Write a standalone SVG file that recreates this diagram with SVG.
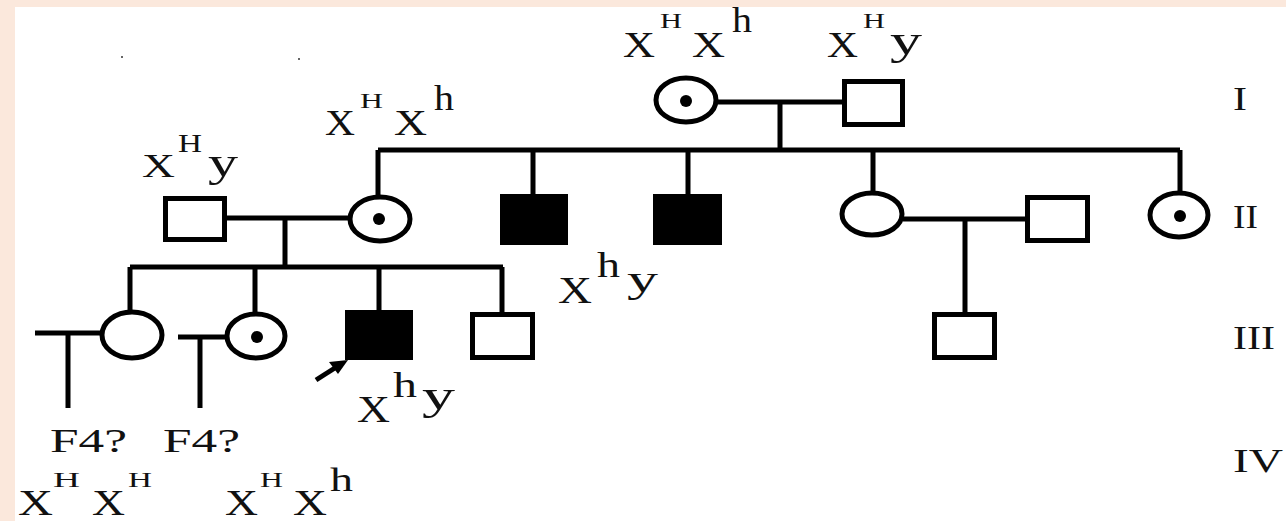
<svg xmlns="http://www.w3.org/2000/svg" width="1286" height="521" viewBox="0 0 1286 521">
  <style>
    .ln { fill: none; stroke: #000; stroke-width: 5; stroke-linecap: butt; }
    .sym { fill: #fff; stroke: #000; stroke-width: 5; }
    .aff { fill: #000; stroke: #000; stroke-width: 5; }
    .dot { fill: #000; }
    .t { font-family: "Liberation Serif", "Times New Roman", serif; fill: #111; }
  </style>

  <!-- page -->
  <rect x="0" y="0" width="1286" height="521" fill="#fbe8dc"/>
  <rect x="15" y="7" width="1271" height="514" fill="#fff"/>
  <circle cx="122" cy="57" r="1" fill="#333"/>
  <circle cx="299" cy="59" r="1" fill="#333"/>

  <!-- connectors -->
  <g id="connectors">
    <path class="ln" d="M718 102 H844 M780 102 V150"/>
    <path class="ln" d="M378 150 H1180 M378 150 V196 M533 150 V196 M688 150 V196 M873 150 V192 M1180 150 V192"/>
    <path class="ln" d="M224 218 H350 M285 218 V267"/>
    <path class="ln" d="M130 267 H503 M130 267 V312 M255 267 V313 M379 267 V312 M502 267 V314"/>
    <path class="ln" d="M903 219 H1027 M965 219 V314"/>
    <path class="ln" d="M35 333 H100 M68 333 V408"/>
    <path class="ln" d="M178 337 H227 M200 337 V408"/>
    <g id="proband-arrow">
      <path class="ln" d="M316 380 L338 366" stroke-width="4"/>
      <polygon points="348,360 329,362 338,374" fill="#000"/>
    </g>
  </g>

  <!-- generation I -->
  <g id="I-1">
    <ellipse class="sym" cx="686" cy="100" rx="30" ry="22"/>
    <circle class="dot" cx="686" cy="101" r="6"/>
  </g>
  <g id="I-2"><rect class="sym" x="844.5" y="81.5" width="58" height="43"/></g>

  <!-- generation II -->
  <g id="II-1"><rect class="sym" x="165.5" y="198.5" width="59" height="41"/></g>
  <g id="II-2">
    <ellipse class="sym" cx="380" cy="219" rx="30" ry="22"/>
    <circle class="dot" cx="379" cy="219" r="6"/>
  </g>
  <g id="II-3"><rect class="aff" x="502.5" y="196.5" width="63" height="46"/></g>
  <g id="II-4"><rect class="aff" x="655.5" y="196.5" width="64" height="46"/></g>
  <g id="II-5"><ellipse class="sym" cx="872" cy="214" rx="30" ry="21"/></g>
  <g id="II-6"><rect class="sym" x="1027.5" y="197.5" width="60" height="43"/></g>
  <g id="II-7">
    <ellipse class="sym" cx="1179" cy="215" rx="29" ry="22"/>
    <circle class="dot" cx="1180" cy="216" r="6"/>
  </g>

  <!-- generation III -->
  <g id="III-1"><ellipse class="sym" cx="132" cy="335" rx="30" ry="23"/></g>
  <g id="III-2">
    <ellipse class="sym" cx="256" cy="336" rx="29" ry="22"/>
    <circle class="dot" cx="257" cy="337" r="6"/>
  </g>
  <g id="III-3"><rect class="aff" x="347.5" y="312.5" width="63" height="45"/></g>
  <g id="III-4"><rect class="sym" x="472.5" y="314.5" width="60" height="43"/></g>
  <g id="III-5"><rect class="sym" x="934.5" y="314.5" width="60" height="43"/></g>

  <!-- genotypes -->
  <g id="label-I-1" class="t">
    <text x="623" y="57" font-size="35" textLength="32" lengthAdjust="spacingAndGlyphs">X</text>
    <text x="660" y="28" font-size="22" textLength="22" lengthAdjust="spacingAndGlyphs">H</text>
    <text x="692" y="57" font-size="35" textLength="33" lengthAdjust="spacingAndGlyphs">X</text>
    <text x="732" y="32" font-size="36" textLength="20" lengthAdjust="spacingAndGlyphs">h</text>
  </g>
  <g id="label-I-2" class="t">
    <text x="827" y="57" font-size="35" textLength="31" lengthAdjust="spacingAndGlyphs">X</text>
    <text x="863" y="28" font-size="22" textLength="22" lengthAdjust="spacingAndGlyphs">H</text>
    <text x="890" y="54" font-size="39" textLength="32" lengthAdjust="spacingAndGlyphs">y</text>
  </g>
  <g id="label-II-2" class="t">
    <text x="325" y="135" font-size="35" textLength="30" lengthAdjust="spacingAndGlyphs">X</text>
    <text x="360" y="108" font-size="22" textLength="23" lengthAdjust="spacingAndGlyphs">H</text>
    <text x="394" y="135" font-size="35" textLength="33" lengthAdjust="spacingAndGlyphs">X</text>
    <text x="434" y="110" font-size="36" textLength="20" lengthAdjust="spacingAndGlyphs">h</text>
  </g>
  <g id="label-II-1" class="t">
    <text x="142" y="177" font-size="33" textLength="33" lengthAdjust="spacingAndGlyphs">X</text>
    <text x="178" y="152" font-size="25" textLength="24" lengthAdjust="spacingAndGlyphs">H</text>
    <text x="208" y="176" font-size="40" textLength="30" lengthAdjust="spacingAndGlyphs">y</text>
  </g>
  <g id="label-II-3" class="t">
    <text x="558" y="303" font-size="37" textLength="34" lengthAdjust="spacingAndGlyphs">X</text>
    <text x="597" y="277" font-size="36" textLength="23" lengthAdjust="spacingAndGlyphs">h</text>
    <text x="627" y="292" font-size="37" textLength="31" lengthAdjust="spacingAndGlyphs">y</text>
  </g>
  <g id="label-III-3" class="t">
    <text x="357" y="422" font-size="37" textLength="33" lengthAdjust="spacingAndGlyphs">X</text>
    <text x="393" y="397" font-size="36" textLength="24" lengthAdjust="spacingAndGlyphs">h</text>
    <text x="422" y="409" font-size="39" textLength="33" lengthAdjust="spacingAndGlyphs">y</text>
  </g>

  <!-- offspring queries -->
  <g id="query-1" class="t">
    <text x="50" y="452" font-size="33" textLength="77" lengthAdjust="spacingAndGlyphs">F4?</text>
  </g>
  <g id="query-2" class="t">
    <text x="163" y="452" font-size="33" textLength="77" lengthAdjust="spacingAndGlyphs">F4?</text>
  </g>
  <g id="label-IV-1" class="t">
    <text x="18" y="515" font-size="36" textLength="35" lengthAdjust="spacingAndGlyphs">X</text>
    <text x="53" y="487" font-size="20" textLength="27" lengthAdjust="spacingAndGlyphs">H</text>
    <text x="92" y="515" font-size="36" textLength="33" lengthAdjust="spacingAndGlyphs">X</text>
    <text x="128" y="487" font-size="20" textLength="24" lengthAdjust="spacingAndGlyphs">H</text>
  </g>
  <g id="label-IV-2" class="t">
    <text x="225" y="515" font-size="36" textLength="33" lengthAdjust="spacingAndGlyphs">X</text>
    <text x="260" y="487" font-size="20" textLength="23" lengthAdjust="spacingAndGlyphs">H</text>
    <text x="293" y="515" font-size="36" textLength="34" lengthAdjust="spacingAndGlyphs">X</text>
    <text x="330" y="491" font-size="34" textLength="23" lengthAdjust="spacingAndGlyphs">h</text>
  </g>

  <!-- generation numbers -->
  <g id="generations" class="t">
    <text x="1233" y="110" font-size="33" textLength="14" lengthAdjust="spacingAndGlyphs">I</text>
    <text x="1233" y="228" font-size="33" textLength="25" lengthAdjust="spacingAndGlyphs">II</text>
    <text x="1233" y="349" font-size="33" textLength="42" lengthAdjust="spacingAndGlyphs">III</text>
    <text x="1233" y="472" font-size="33" textLength="50" lengthAdjust="spacingAndGlyphs">IV</text>
  </g>
</svg>
